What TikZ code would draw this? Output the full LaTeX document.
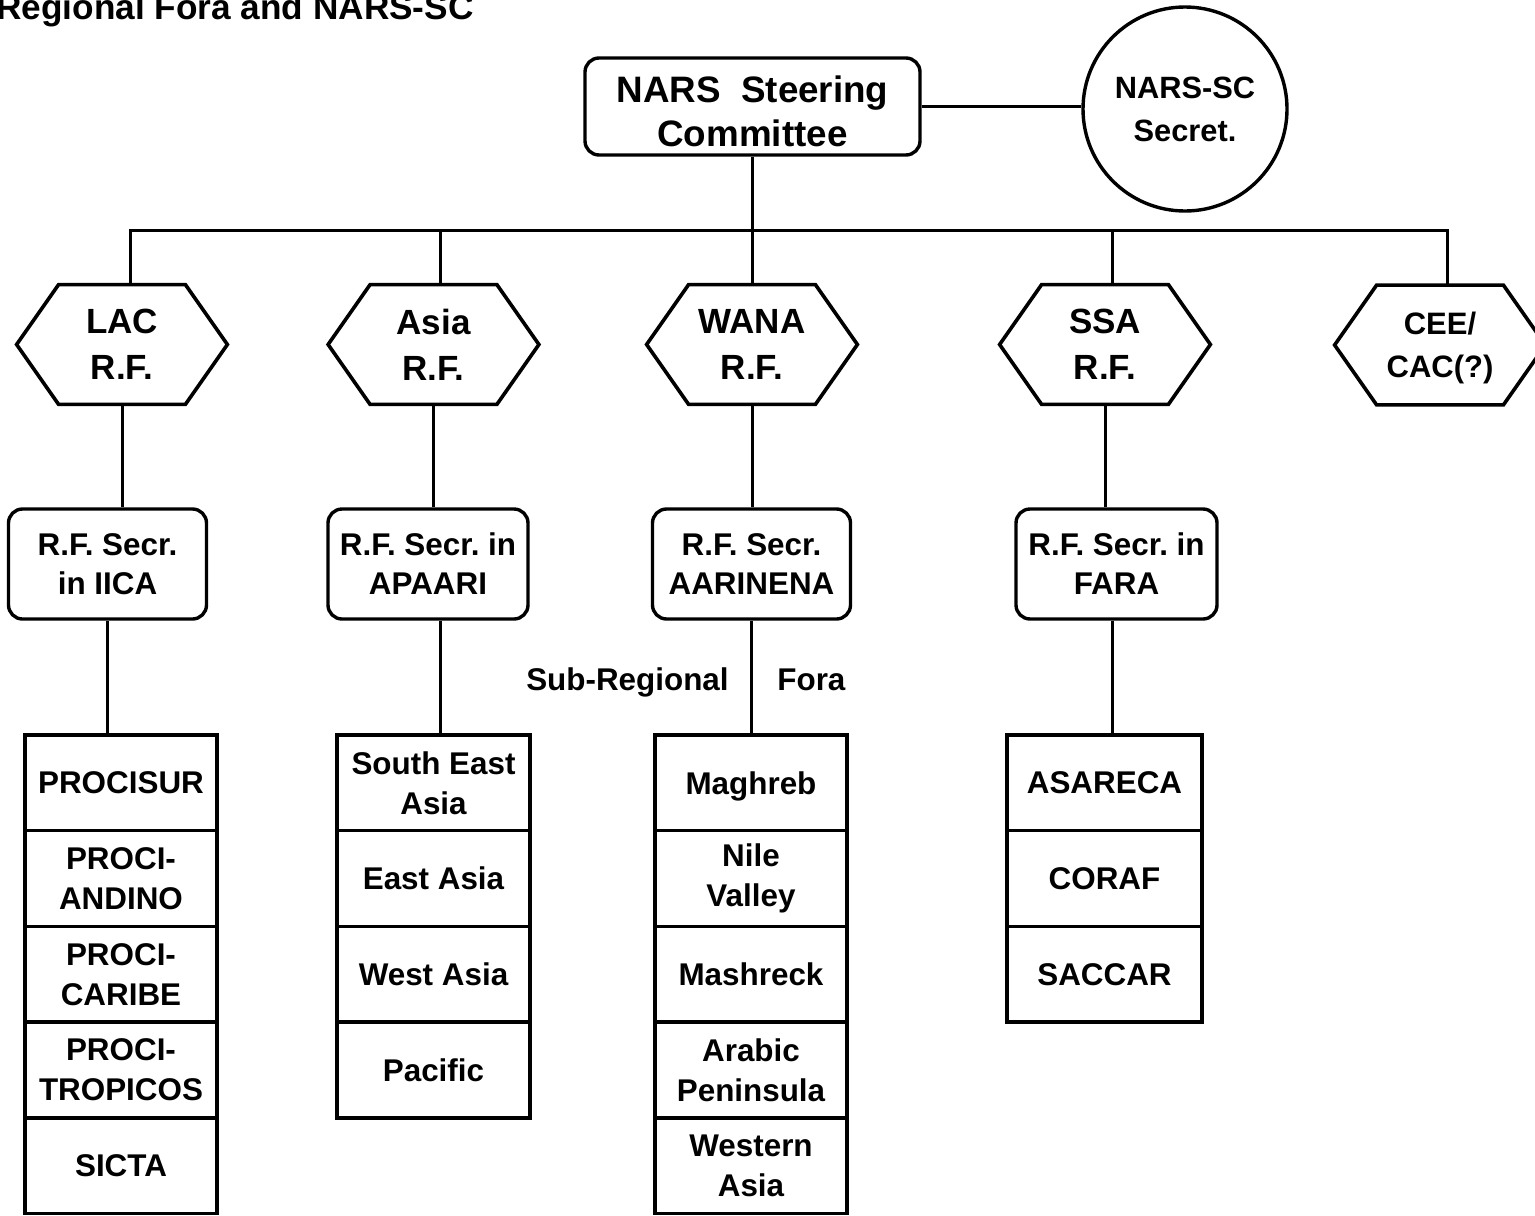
\documentclass[tikz,border=0pt]{standalone}
\usepackage{fontspec}
\setmainfont{Liberation Sans}
\frenchspacing
\begin{document}
\begin{tikzpicture}[x=0.5pt,y=-0.5pt,
  conn/.style={line width=1.5pt},
  hexline/.style={line width=1.8pt, line join=miter},
  hexa/.style={minimum width=105pt, minimum height=59.5pt, inner sep=0pt, align=center,
    font=\bfseries\fontsize{17.5pt}{23pt}\selectfont},
  secbox/.style={draw, line width=1.7pt, rounded corners=7pt, minimum width=99pt,
    minimum height=55pt, inner sep=0pt, align=center,
    font=\bfseries\fontsize{15.7pt}{19.5pt}\selectfont},
  cell/.style={draw, line width=1.7pt, minimum width=96pt, minimum height=47.85pt,
    inner sep=0pt, align=center, font=\bfseries\fontsize{15.7pt}{20pt}\selectfont},
  lbl/.style={inner sep=0pt, font=\bfseries\fontsize{15.7pt}{19pt}\selectfont},
]
\useasboundingbox (0,0) rectangle (1535,1215);
\clip (0,0) rectangle (1535,1215);

% title
\node[anchor=base west, inner sep=0pt, font=\bfseries\fontsize{17.6pt}{21pt}\selectfont]
  (title) at (-4,19) {Regional Fora and NARS-SC};

% top level
\node[draw, line width=1.7pt, rounded corners=7pt, minimum width=167.5pt, minimum height=48.5pt,
  inner sep=0pt] (nars) at (752.5,106.5) {};
\node[inner sep=0pt, align=center, font=\bfseries\fontsize{18.4pt}{22pt}\selectfont]
  (narstext) at ([yshift=-2.5pt]nars.center) {NARS\ \ Steering\\Committee};
\node[draw, circle, line width=1.7pt, minimum size=102pt, inner sep=0pt, align=center,
  font=\bfseries\fontsize{15.4pt}{21.5pt}\selectfont]
  (scs) at (1185,109) {NARS-SC\\Secret.};

% regional fora (hexagons)
\node[hexa] (lac) at (122,344.5) {LAC\\R.F.};
\node[hexa] (asia) at (433.5,344.5) {Asia\\R.F.};
\node[hexa] (wana) at (752,344.5) {WANA\\R.F.};
\node[hexa] (ssa) at (1105,344.5) {SSA\\R.F.};
\node[hexa, font=\bfseries\fontsize{15.5pt}{21.5pt}\selectfont] (cee) at (1440,345) {};
\node[inner sep=0pt, align=center, font=\bfseries\fontsize{15.5pt}{21.5pt}\selectfont]
  (ceetext) at ([yshift=-1.5pt]cee.center) {CEE/\\CAC(?)};
\foreach \h in {lac,asia,wana,ssa,cee}{
  \draw[hexline] (\h.west) -- ([xshift=21pt]\h.north west) -- ([xshift=-21pt]\h.north east)
    -- (\h.east) -- ([xshift=-21pt]\h.south east) -- ([xshift=21pt]\h.south west) -- cycle;
}

% secretariats
\node[secbox] (lacsec) at (107.5,564) {R.F. Secr.\\in IICA};
\node[secbox, minimum width=100pt] (asiasec) at (428,564) {R.F. Secr. in\\APAARI};
\node[secbox] (wanasec) at (751.5,564) {R.F. Secr.\\AARINENA};
\node[secbox, minimum width=100.5pt] (ssasec) at (1116.5,564) {R.F. Secr. in\\FARA};

% sub-regional fora label
\node[lbl, anchor=base east] (subreg) at (729,690) {Sub-Regional};
\node[lbl, anchor=base west] (fora) at (777,690) {Fora};

% LAC stack
\node[cell] (lac1) at (121,782.85) {PROCISUR};
\node[cell] (lac2) at (121,878.55) {PROCI-\\ANDINO};
\node[cell] (lac3) at (121,974.25) {PROCI-\\CARIBE};
\node[cell] (lac4) at (121,1069.95) {PROCI-\\TROPICOS};
\node[cell] (lac5) at (121,1165.65) {SICTA};

% Asia stack
\node[cell, minimum width=96.5pt] (asia1) at (433.5,782.85) {South East\\Asia};
\node[cell, minimum width=96.5pt] (asia2) at (433.5,878.55) {East Asia};
\node[cell, minimum width=96.5pt] (asia3) at (433.5,974.25) {West Asia};
\node[cell, minimum width=96.5pt] (asia4) at (433.5,1069.95) {Pacific};

% WANA stack
\node[cell, text depth=0pt] (wana1) at (751,782.85) {Maghreb};
\node[cell] (wana2) at (751,878.55) {Nile\\Valley};
\node[cell] (wana3) at (751,974.25) {Mashreck};
\node[cell] (wana4) at (751,1069.95) {Arabic\\Peninsula};
\node[cell] (wana5) at (751,1165.65) {Western\\Asia};

% SSA stack
\node[cell, minimum width=97.5pt] (ssa1) at (1104.5,782.85) {ASARECA};
\node[cell, minimum width=97.5pt] (ssa2) at (1104.5,878.55) {CORAF};
\node[cell, minimum width=97.5pt] (ssa3) at (1104.5,974.25) {SACCAR};

% connectors
\draw[conn] (scs.west |- nars.east) -- (nars.east);
\draw[conn] (nars.south) -- (nars.south |- wana.north);
\coordinate (bL) at (130,230);
\coordinate (bA) at (440,230);
\coordinate (bS) at (1112,230);
\coordinate (bR) at (1447,230);
\draw[conn] (bL |- lac.north) -- (bL) -- (bR) -- (bR |- cee.north);
\draw[conn] (bA) -- (bA |- asia.north);
\draw[conn] (bS) -- (bS |- ssa.north);

\draw[conn] (lac.south) -- (lac.south |- lacsec.north);
\draw[conn] (asia.south) -- (asia.south |- asiasec.north);
\draw[conn] (wana.south) -- (wana.south |- wanasec.north);
\draw[conn] (ssa.south) -- (ssa.south |- ssasec.north);

\draw[conn] (lacsec.south) -- (lacsec.south |- lac1.north);
\draw[conn] ([xshift=6pt]asiasec.south) -- ([xshift=6pt]asiasec.south |- asia1.north);
\draw[conn] (wanasec.south) -- (wanasec.south |- wana1.north);
\draw[conn] ([xshift=-2.25pt]ssasec.south) -- ([xshift=-2.25pt]ssasec.south |- ssa1.north);
\end{tikzpicture}
\end{document}
